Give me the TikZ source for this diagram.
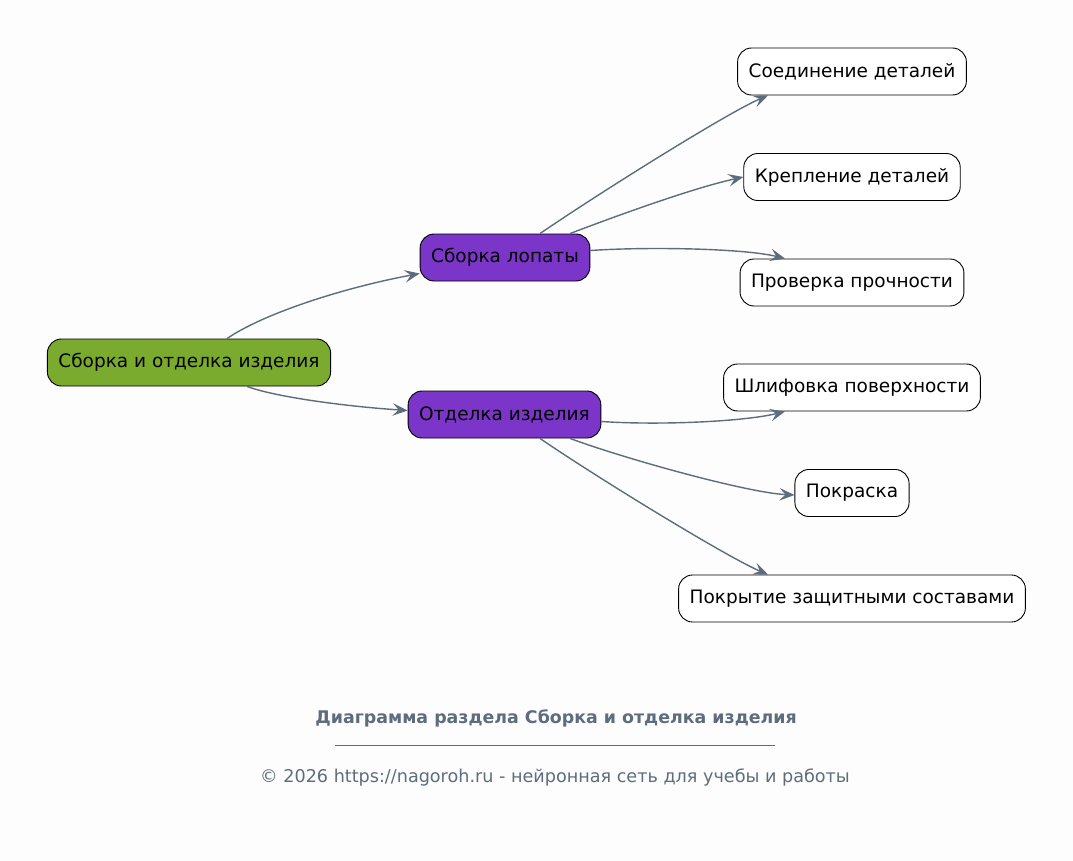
\documentclass[tikz,border=0pt]{standalone}
\usepackage{fontspec}
\setmainfont{DejaVu Sans}
\usetikzlibrary{arrows.meta}
\definecolor{bgc}{HTML}{FDFDFD}
\definecolor{edgec}{HTML}{5D6D7E}
\definecolor{rootc}{HTML}{7AAB2E}
\definecolor{midc}{HTML}{7B35C8}
\tikzset{
  box/.style={draw=black, line width=0.9pt, rounded corners=14pt, minimum height=47pt,
    inner xsep=11pt, font=\fontsize{18.5}{22}\selectfont, text=black},
  rootbox/.style={box, fill=rootc},
  midbox/.style={box, fill=midc},
  leafbox/.style={box, fill=white},
  conn/.style={draw=edgec, line width=1.4pt, >={Stealth[length=15pt, width=12.5pt, inset=6pt]}, ->},
}
\begin{document}
\begin{tikzpicture}[x=1pt, y=-1pt]
\fill[bgc] (0,0) rectangle (1073,861);
\useasboundingbox (0,0) rectangle (1073,861);

\node[rootbox] (root) at (189,362.5) {Сборка и отделка изделия};
\node[midbox] (sb) at (505,257.5) {Сборка лопаты};
\node[midbox] (od) at (504.5,414.5) {Отделка изделия};

\node[leafbox] (c1) at (852,71.5) {Соединение деталей};
\node[leafbox] (c2) at (852,177) {Крепление деталей};
\node[leafbox] (c3) at (852,282.5) {Проверка прочности};
\node[leafbox] (c4) at (852,387.5) {Шлифовка поверхности};
\node[leafbox] (c5) at (852,493) {Покраска};
\node[leafbox] (c6) at (852,598.5) {Покрытие защитными составами};

\draw[conn] ([xshift=38pt]root.north) .. controls +(35,-24) and +(-80,15) .. ([yshift=-16pt]sb.west);
\draw[conn] ([xshift=58pt]root.south) .. controls +(30,11) and +(-60,-4) .. ([yshift=4pt]od.west);

\draw[conn] ([xshift=35pt]sb.north) .. controls +(60,-41) and +(-40,17) .. ([xshift=-84pt]c1.south);
\draw[conn] ([xshift=65pt]sb.north) .. controls +(50,-19) and +(-50,11) .. (c2.west);
\draw[conn] ([yshift=7pt]sb.east) .. controls +(60,-4) and +(-40,-10) .. ([xshift=-67pt]c3.north);

\draw[conn] ([yshift=-7pt]od.east) .. controls +(60,4) and +(-40,10) .. ([xshift=-67pt]c4.south);
\draw[conn] ([xshift=65.5pt]od.south) .. controls +(60,22) and +(-45,-2) .. ([yshift=-2pt]c5.west);
\draw[conn] ([xshift=35.5pt]od.south) .. controls +(60,41) and +(-40,-17) .. ([xshift=-84pt]c6.north);

\node[font=\bfseries\fontsize{17.4}{20}\selectfont, text=edgec] (title) at (556,718) {Диаграмма раздела Сборка и отделка изделия};
\coordinate (sepl) at (335,745);
\coordinate (sepr) at (775,745);
\draw[edgec, line width=0.8pt] (sepl) -- (sepr);
\node[font=\fontsize{17.6}{20}\selectfont, text=edgec] (copy) at (555,777) {© 2026 https://nagoroh.ru - нейронная сеть для учебы и работы};
\end{tikzpicture}
\end{document}
